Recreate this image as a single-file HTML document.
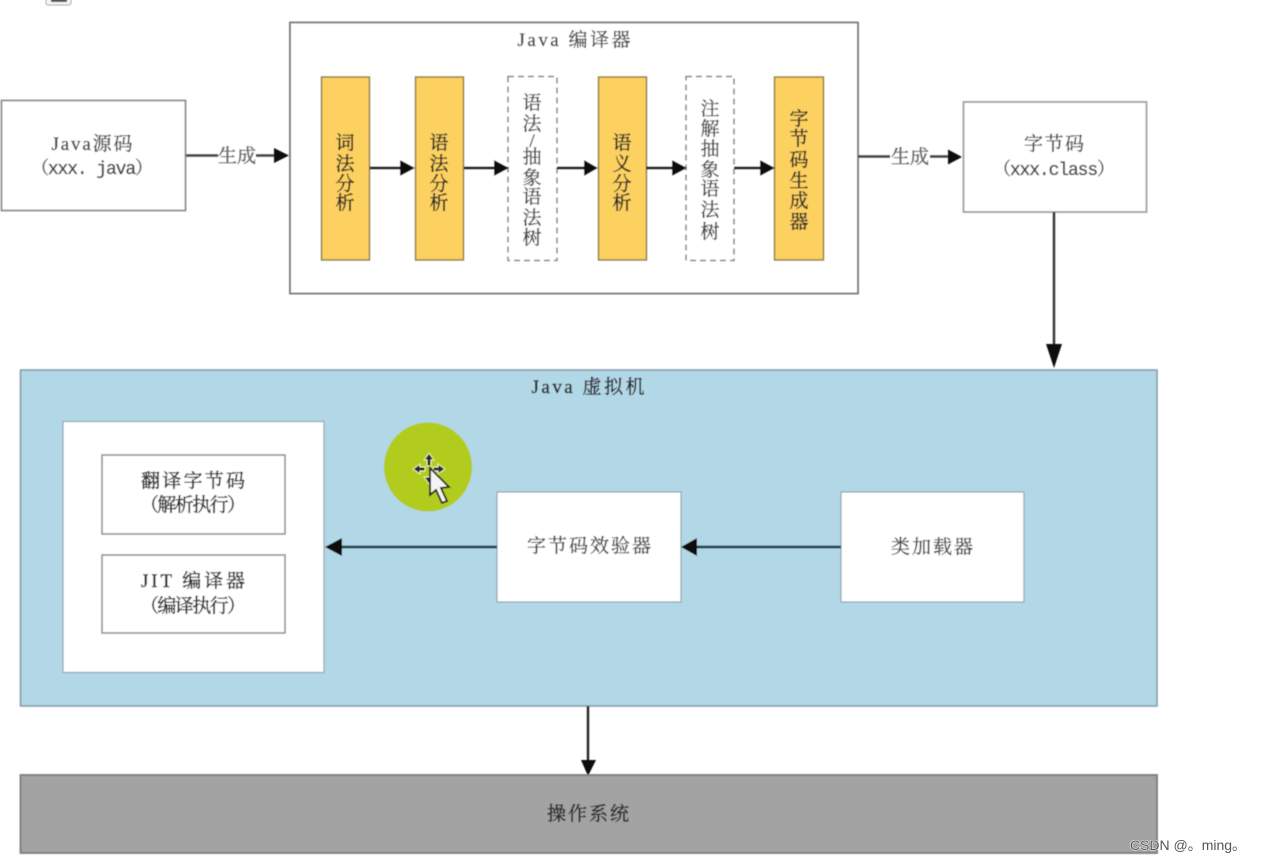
<!DOCTYPE html>
<html><head><meta charset="utf-8">
<style>
html,body{margin:0;padding:0;background:#fff;width:1261px;height:864px;overflow:hidden}
svg{display:block}
text{font-family:"Liberation Serif","Noto Serif CJK SC",serif;fill:#444;stroke:#444;stroke-width:.35px;font-size:19px;text-anchor:middle}
.m{font-family:"Liberation Mono","Noto Serif CJK SC",monospace;font-size:18px}
.d{fill:#2b2b2b;stroke:#2b2b2b;stroke-width:.45px}
.g{fill:#666;stroke:#666}
</style></head><body>
<svg width="1261" height="864" viewBox="0 0 1261 864" xmlns="http://www.w3.org/2000/svg">
<defs>
<filter id="b" x="-2%" y="-2%" width="104%" height="104%"><feGaussianBlur stdDeviation="0.65"/></filter>
</defs>
<rect width="1261" height="864" fill="#fff"/>
<g filter="url(#b)">
<!-- top left fragment -->
<rect x="46" y="-8" width="25" height="13" rx="2" fill="#f4f4f4" stroke="#aaa"/>
<rect x="51" y="-2" width="16" height="4" fill="#555"/>

<!-- source -->
<rect x="1.500" y="100.500" width="184" height="110" fill="#fff" stroke="#8e8e8e" stroke-width="1.800"/>
<text x="92" y="150" textLength="81">Java源码</text>
<text x="92" y="174" class="m" textLength="122">（xxx. java）</text>

<!-- compiler -->
<rect x="290" y="22.500" width="568" height="271" fill="#fff" stroke="#808080" stroke-width="2"/>
<text x="574" y="46" textLength="113">Java 编译器</text>

<!-- phases -->
<g fill="#fdd160" stroke="#8f7d45" stroke-width="1.500">
<rect x="321.500" y="77" width="48" height="183"/>
<rect x="415.500" y="77" width="48" height="183"/>
<rect x="598.500" y="77" width="48" height="183"/>
<rect x="774.500" y="77" width="49" height="183"/>
</g>
<g fill="#fff" stroke="#808080" stroke-width="1.500" stroke-dasharray="6 4">
<rect x="508" y="76.500" width="49" height="184"/>
<rect x="686" y="76.500" width="48" height="184"/>
</g>
<text class="d" x="345" y="149">词</text><text class="d" x="345" y="170">法</text><text class="d" x="345" y="190">分</text><text class="d" x="345" y="209">析</text>
<text class="d" x="439" y="149">语</text><text class="d" x="439" y="170">法</text><text class="d" x="439" y="190">分</text><text class="d" x="439" y="209">析</text>
<text class="d" x="622" y="149">语</text><text class="d" x="622" y="170">义</text><text class="d" x="622" y="190">分</text><text class="d" x="622" y="209">析</text>
<text x="532" y="109">语</text><text x="532" y="130">法</text><text x="532" y="147" font-size="18">/</text><text x="532" y="163">抽</text><text x="532" y="184">象</text><text x="532" y="203">语</text><text x="532" y="224">法</text><text x="532" y="244">树</text>
<text x="710" y="115">注</text><text x="710" y="135">解</text><text x="710" y="155">抽</text><text x="710" y="176">象</text><text x="710" y="195">语</text><text x="710" y="216">法</text><text x="710" y="238">树</text>
<text class="d" x="799" y="125">字</text><text class="d" x="799" y="145">节</text><text class="d" x="799" y="166">码</text><text class="d" x="799" y="187">生</text><text class="d" x="799" y="207">成</text><text class="d" x="799" y="228">器</text>

<!-- inner arrows -->
<g stroke="#222" stroke-width="3">
<line x1="370" y1="168" x2="402" y2="168"/>
<line x1="464" y1="168" x2="496" y2="168"/>
<line x1="557" y1="168" x2="586" y2="168"/>
<line x1="646" y1="168" x2="674" y2="168"/>
<line x1="734" y1="168" x2="762" y2="168"/>
</g>
<g fill="#0a0a0a">
<polygon points="415,168 400,160 400,176"/>
<polygon points="509,168 494,160 494,176"/>
<polygon points="598,168 584,160 584,176"/>
<polygon points="687,168 672,160 672,176"/>
<polygon points="775,168 760,160 760,176"/>
</g>

<!-- generate arrows -->
<g stroke="#444" stroke-width="2.400">
<line x1="186" y1="155.500" x2="218" y2="155.500"/>
<line x1="256" y1="155.500" x2="276" y2="155.500"/>
<line x1="858" y1="156.500" x2="890" y2="156.500"/>
<line x1="930" y1="156.500" x2="950" y2="156.500"/>
</g>
<polygon points="289,155.500 274,148 274,163" fill="#0a0a0a"/>
<polygon points="962,157 948,149.500 948,164.500" fill="#0a0a0a"/>
<text class="g" x="237" y="162">生成</text>
<text class="g" x="910" y="163">生成</text>

<!-- bytecode -->
<rect x="963.500" y="102" width="183" height="110" fill="#fff" stroke="#a0a0a0" stroke-width="1.800"/>
<text x="1054" y="150" textLength="60">字节码</text>
<text x="1054" y="175" class="m" textLength="122">（xxx.class）</text>
<line x1="1054" y1="212" x2="1054" y2="346" stroke="#333" stroke-width="2.400"/>
<polygon points="1054,368 1046,344 1062,344" fill="#0a0a0a"/>

<!-- JVM -->
<rect x="20.500" y="370" width="1136.500" height="336" fill="#b2d7e7" stroke="#7f9aa8" stroke-width="1.500"/>
<text x="588" y="393" class="d" textLength="113">Java 虚拟机</text>

<rect x="63" y="421.500" width="261" height="251" fill="#fff" stroke="#8fa5ae" stroke-width="1.200"/>
<rect x="102" y="455" width="183" height="79" fill="#fff" stroke="#888" stroke-width="1.500"/>
<text x="193" y="487" class="d" textLength="104">翻译字节码</text>
<text x="193" y="511" class="d" textLength="106">（解析执行）</text>
<rect x="102" y="555" width="183" height="78" fill="#fff" stroke="#888" stroke-width="1.500"/>
<text x="193" y="587" class="d" textLength="104">JIT 编译器</text>
<text x="193" y="612" class="d" textLength="106">（编译执行）</text>

<rect x="497" y="492" width="184" height="110" fill="#fff" stroke="#8fa5ae" stroke-width="1.200"/>
<text x="589" y="552" textLength="124">字节码效验器</text>
<rect x="841" y="492" width="183" height="110" fill="#fff" stroke="#8fa5ae" stroke-width="1.200"/>
<text x="932" y="553" textLength="82">类加载器</text>

<line x1="340" y1="547" x2="497" y2="547" stroke="#24404e" stroke-width="2.800"/>
<line x1="695" y1="547" x2="841" y2="547" stroke="#24404e" stroke-width="2.800"/>
<polygon points="325,547 342,538 342,556" fill="#0a0a0a"/>
<polygon points="681,547 697,538 697,556" fill="#0a0a0a"/>

<!-- cursor highlight -->
<ellipse cx="428" cy="467" rx="44" ry="44.500" fill="#b1cc1c"/>
<g stroke="#eef3b0" stroke-width="1" fill="#1c2a3a">
<polygon points="429,453 424,460 427,460 427,466 431,466 431,460 434,460"/>
<polygon points="413,469 420,464 420,467 425,467 425,471 420,471 420,474"/>
<polygon points="445,469 438,464 438,467 433,467 433,471 438,471 438,474"/>
<polygon points="429,484 424,477 434,477"/>
</g>
<polygon points="430,468 430,495 436,490 442,503 447,501 441,488 449,487" fill="#f4f4f4" stroke="#1a1a1a" stroke-width="1.800"/>

<!-- OS arrow -->
<line x1="588" y1="706" x2="588" y2="762" stroke="#222" stroke-width="2.400"/>
<polygon points="588,776 581,760 596,760" fill="#0a0a0a"/>

<!-- OS -->
<rect x="20.500" y="775" width="1136.500" height="78" fill="#a3a3a3" stroke="#7c7c7c" stroke-width="1.800"/>
<text x="588" y="820" class="d" textLength="82">操作系统</text>
</g>
<text x="1188" y="850" style="font-family:'Liberation Sans','Noto Sans CJK SC',sans-serif;font-size:14px;fill:#555;stroke:#fff;stroke-width:1px;paint-order:stroke">CSDN @。ming。</text>
</svg>
</body></html>
